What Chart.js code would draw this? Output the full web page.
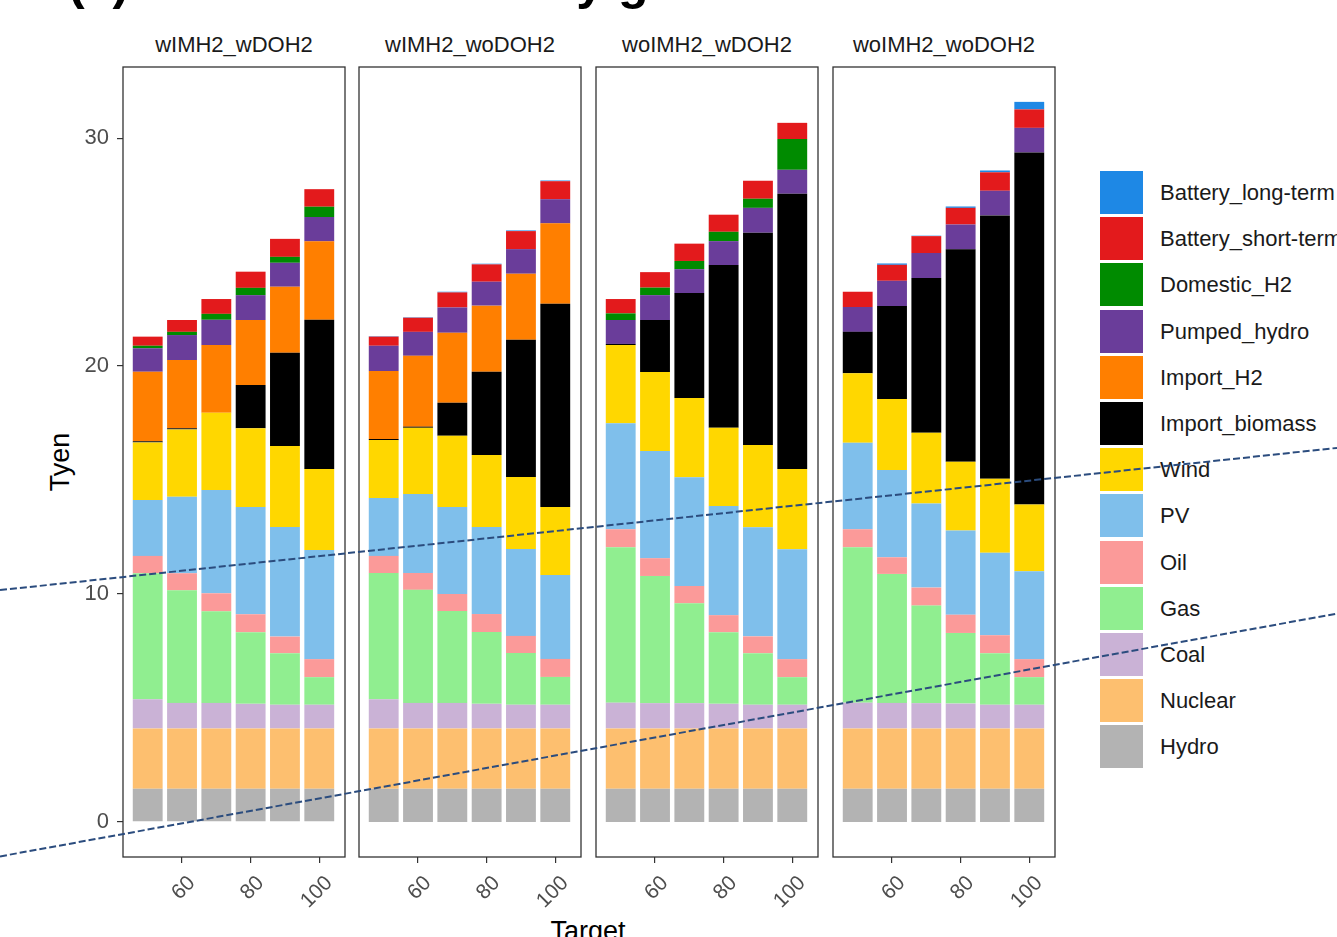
<!DOCTYPE html>
<html>
<head>
<meta charset="utf-8">
<script src="https://cdn.jsdelivr.net/npm/chart.js@4.4.1/dist/chart.umd.min.js"></script>
<style>
  html, body { margin: 0; padding: 0; background: #fff; }
  body { width: 1337px; height: 937px; overflow: hidden; position: relative;
         font-family: "Liberation Sans", Arial, sans-serif; }
  .abs { position: absolute; white-space: nowrap; }
  #title { left: 68px; top: -43px; font-size: 50px; font-weight: bold; line-height: 50px; color: #000; }
  .strip { top: 31px; width: 222px; font-size: 22px; line-height: 28px; color: #1a1a1a; text-align: center; }
  #ytitle { left: 60px; top: 462px; font-size: 27px; color: #000; transform: translate(-50%, -50%) rotate(-90deg); }
  #xtitle { left: 588px; top: 918px; font-size: 27px; line-height: 27px; color: #000; transform: translateX(-50%); }
  .key { width: 43px; height: 43px; }
  .klabel { font-size: 22px; line-height: 43px; color: #1a1a1a; }
  canvas { position: absolute; }
</style>
</head>
<body>
<div id="title" class="abs">(a) Cost breakdown by generation</div>
<div id="ytitle" class="abs">Tyen</div>
<div id="xtitle" class="abs">Target</div>

<script>
// Renewable target levels (%) on the x axis of every facet
const targets = [50, 60, 70, 80, 90, 100];
const facetNames = ['wIMH2_wDOH2', 'wIMH2_woDOH2', 'woIMH2_wDOH2', 'woIMH2_woDOH2'];
const xTicks = [60, 80, 100];
const yTicks = [0, 10, 20, 30];

// Cost by technology, Tyen: one row per facet, one value per target
const hydro = [
  [1.45, 1.45, 1.45, 1.45, 1.45, 1.45],
  [1.45, 1.45, 1.45, 1.45, 1.45, 1.45],
  [1.45, 1.45, 1.45, 1.45, 1.45, 1.45],
  [1.45, 1.45, 1.45, 1.45, 1.45, 1.45]
];
const nuclear = [
  [2.65, 2.65, 2.65, 2.65, 2.65, 2.65],
  [2.65, 2.65, 2.65, 2.65, 2.65, 2.65],
  [2.65, 2.65, 2.65, 2.65, 2.65, 2.65],
  [2.65, 2.65, 2.65, 2.65, 2.65, 2.65]
];
const coal = [
  [1.28, 1.12, 1.12, 1.08, 1.04, 1.04],
  [1.28, 1.12, 1.12, 1.08, 1.04, 1.04],
  [1.13, 1.11, 1.11, 1.08, 1.04, 1.04],
  [1.13, 1.12, 1.11, 1.09, 1.04, 1.04]
];
const gas = [
  [5.53, 4.94, 4.02, 3.14, 2.26, 1.21],
  [5.54, 4.96, 4.03, 3.15, 2.27, 1.22],
  [6.82, 5.58, 4.38, 3.14, 2.26, 1.21],
  [6.82, 5.66, 4.28, 3.10, 2.26, 1.21]
];
const oil = [
  [0.76, 0.75, 0.79, 0.79, 0.73, 0.79],
  [0.75, 0.74, 0.75, 0.79, 0.75, 0.79],
  [0.79, 0.78, 0.76, 0.75, 0.74, 0.79],
  [0.79, 0.73, 0.79, 0.80, 0.79, 0.79]
];
const pv = [
  [2.45, 3.36, 4.53, 4.71, 4.81, 4.79],
  [2.54, 3.47, 3.82, 3.82, 3.81, 3.68],
  [4.65, 4.70, 4.77, 4.79, 4.79, 4.82],
  [3.80, 3.83, 3.69, 3.69, 3.62, 3.86]
];
const wind = [
  [2.53, 2.95, 3.39, 3.45, 3.55, 3.55],
  [2.54, 2.90, 3.12, 3.16, 3.16, 2.99],
  [3.43, 3.47, 3.48, 3.43, 3.61, 3.52],
  [3.04, 3.11, 3.10, 3.02, 3.25, 2.93]
];
const importBiomass = [
  [0.05, 0.05, 0.00, 1.90, 4.09, 6.55],
  [0.05, 0.05, 1.45, 3.65, 6.02, 8.91],
  [0.05, 2.28, 4.60, 7.14, 9.31, 12.08],
  [1.82, 4.08, 6.79, 9.32, 11.55, 15.44]
];
const importH2 = [
  [3.05, 2.99, 2.97, 2.85, 2.90, 3.44],
  [2.98, 3.11, 3.07, 2.90, 2.90, 3.53],
  [0, 0, 0, 0, 0, 0],
  [0, 0, 0, 0, 0, 0]
];
const pumpedHydro = [
  [1.03, 1.10, 1.11, 1.09, 1.05, 1.07],
  [1.11, 1.05, 1.11, 1.05, 1.08, 1.06],
  [1.05, 1.09, 1.05, 1.05, 1.09, 1.05],
  [1.09, 1.11, 1.10, 1.09, 1.08, 1.08]
];
const domesticH2 = [
  [0.11, 0.14, 0.26, 0.32, 0.26, 0.45],
  [0, 0, 0, 0, 0, 0],
  [0.29, 0.33, 0.36, 0.41, 0.40, 1.35],
  [0, 0, 0, 0, 0, 0]
];
const batteryShort = [
  [0.40, 0.52, 0.65, 0.71, 0.79, 0.77],
  [0.40, 0.62, 0.66, 0.76, 0.79, 0.79],
  [0.63, 0.68, 0.76, 0.75, 0.79, 0.71],
  [0.67, 0.70, 0.74, 0.73, 0.81, 0.81]
];
const batteryLong = [
  [0, 0, 0, 0, 0, 0],
  [0.02, 0.02, 0.03, 0.03, 0.03, 0.03],
  [0, 0, 0, 0, 0, 0],
  [0, 0.06, 0.02, 0.06, 0.08, 0.33]
];

// Stacking order, bottom to top
const seriesNames = ['Hydro', 'Nuclear', 'Coal', 'Gas', 'Oil', 'PV', 'Wind', 'Import_biomass',
  'Import_H2', 'Pumped_hydro', 'Domestic_H2', 'Battery_short-term', 'Battery_long-term'];
const seriesValues = [hydro, nuclear, coal, gas, oil, pv, wind, importBiomass,
  importH2, pumpedHydro, domesticH2, batteryShort, batteryLong];
const seriesColors = ['#b3b3b3', '#fdbf6f', '#cab2d6', '#90ee90', '#fb9a99', '#7fbfeb', '#ffd700',
  '#000000', '#ff7f00', '#6a3d9a', '#008b00', '#e31a1c', '#1e88e5'];

// Facet panel geometry
const FONT = '"Liberation Sans", Arial, sans-serif';
const panelLefts = [123, 359, 596, 833];
const panelTop = 67, panelW = 222, panelH = 790;
const frameTop = 60, xAxisH = 80, padTop = panelTop - frameTop;

const panelBorder = {
  id: 'panelBorder',
  afterDraw(chart) {
    const { ctx, chartArea: a } = chart;
    ctx.save();
    ctx.strokeStyle = '#333';
    ctx.lineWidth = 1.3;
    ctx.strokeRect(a.left, a.top, a.right - a.left, a.bottom - a.top);
    ctx.restore();
  }
};

function noScalePadding(s) {
  s.paddingTop = 0; s.paddingBottom = 0; s.paddingLeft = 0; s.paddingRight = 0;
}

facetNames.forEach((name, f) => {
  const first = f === 0;
  const padL = first ? 0 : 3;
  const yW = first ? panelLefts[0] : 0;
  const left = panelLefts[f] - padL - yW;
  const cw = padL + yW + panelW + 3;
  const ch = padTop + panelH + xAxisH;

  const strip = document.createElement('div');
  strip.className = 'abs strip';
  strip.style.left = panelLefts[f] + 'px';
  strip.textContent = name;
  document.body.appendChild(strip);

  const cv = document.createElement('canvas');
  cv.width = cw; cv.height = ch;
  cv.style.left = left + 'px'; cv.style.top = frameTop + 'px';
  cv.style.width = cw + 'px'; cv.style.height = ch + 'px';
  document.body.appendChild(cv);

  new Chart(cv, {
    type: 'bar',
    data: {
      datasets: seriesNames.map((s, i) => ({
        label: s,
        data: targets.map((t, j) => ({ x: t, y: seriesValues[i][f][j] })),
        backgroundColor: seriesColors[i],
        borderWidth: 0,
        barPercentage: 0.87,
        categoryPercentage: 1
      }))
    },
    options: {
      responsive: false,
      animation: false,
      devicePixelRatio: 1,
      layout: { padding: { left: padL, right: 3, top: padTop, bottom: 0 } },
      plugins: { legend: { display: false }, tooltip: { enabled: false } },
      scales: {
        x: {
          type: 'linear', stacked: true, min: 42.8, max: 107.5, offset: false,
          afterBuildTicks: a => { a.ticks = xTicks.map(v => ({ value: v })); },
          afterFit: s => { s.height = xAxisH; noScalePadding(s); },
          grid: { offset: false, drawOnChartArea: false, drawTicks: true, tickLength: 6, color: '#333', lineWidth: 1.2 },
          border: { display: false },
          ticks: { minRotation: 45, maxRotation: 45, autoSkip: false, padding: 8, labelOffset: 10,
                   color: '#4d4d4d', font: { size: 21, family: FONT } }
        },
        y: {
          type: 'linear', stacked: true, display: first, min: -1.54, max: 33.12,
          afterBuildTicks: a => { a.ticks = yTicks.map(v => ({ value: v })); },
          afterFit: s => { s.width = yW; noScalePadding(s); },
          grid: { drawOnChartArea: false, drawTicks: true, tickLength: 6, color: '#333', lineWidth: 1.2 },
          border: { display: false },
          ticks: { padding: 8, color: '#4d4d4d', font: { size: 22, family: FONT } }
        }
      }
    },
    plugins: [panelBorder]
  });
});

// Legend, top entry first
seriesNames.slice().reverse().forEach((s, k) => {
  const i = seriesNames.length - 1 - k;
  const top = 171 + k * 46.2;
  const key = document.createElement('div');
  key.className = 'abs key';
  key.style.left = '1100px'; key.style.top = top + 'px';
  key.style.background = seriesColors[i];
  document.body.appendChild(key);
  const lab = document.createElement('div');
  lab.className = 'abs klabel';
  lab.style.left = '1160px'; lab.style.top = top + 'px';
  lab.textContent = s;
  document.body.appendChild(lab);
});

// Dashed guide lines drawn across the whole figure
const guideLines = [[0, 590.1, 1337, 447.9], [0, 856.4, 1337, 613.6]];
const ov = document.createElement('canvas');
ov.width = 1337; ov.height = 937;
ov.style.left = '0px'; ov.style.top = '0px'; ov.style.pointerEvents = 'none';
document.body.appendChild(ov);
const g = ov.getContext('2d');
g.strokeStyle = '#2b4c7e';
g.lineWidth = 2;
g.setLineDash([7, 3]);
guideLines.forEach(([x1, y1, x2, y2]) => {
  g.beginPath(); g.moveTo(x1, y1); g.lineTo(x2, y2); g.stroke();
});
</script>
</body>
</html>
